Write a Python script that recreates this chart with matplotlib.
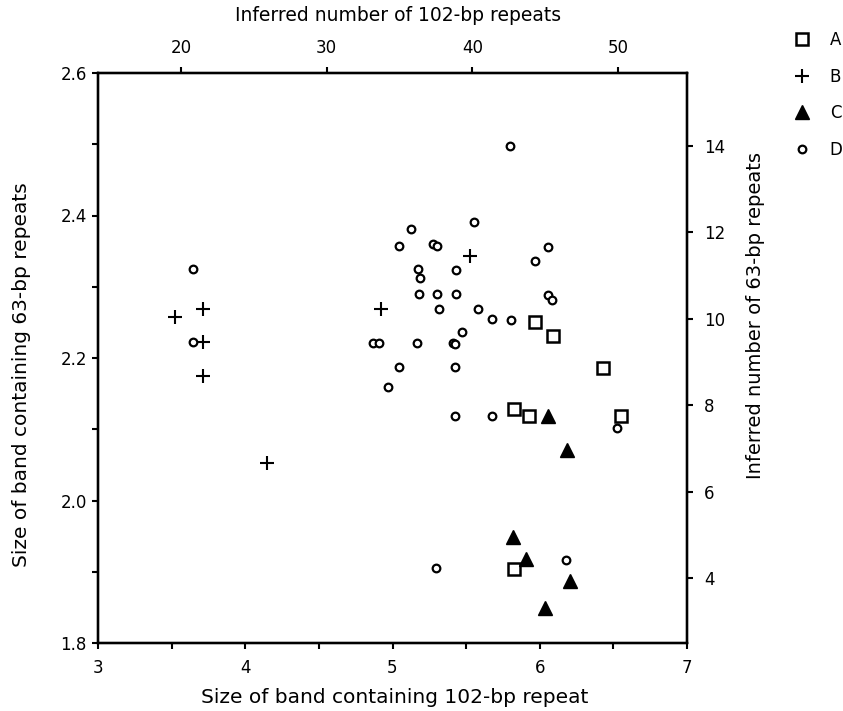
import numpy as np
import matplotlib
matplotlib.use('Agg')
import matplotlib.pyplot as plt

plt.rcParams['font.family'] = ['DejaVu Sans']

# band sizes (kb): x = 102-bp repeat band, y = 63-bp repeat band
a_x = [5.967, 6.091, 6.430, 5.827, 5.926, 6.555, 5.824]
a_y = [2.250, 2.231, 2.186, 2.128, 2.118, 2.118, 1.904]

b_x = [3.523, 3.711, 3.711, 3.711, 4.150, 4.921, 5.525]
b_y = [2.257, 2.269, 2.222, 2.175, 2.053, 2.269, 2.343]

c_x = [6.053, 6.182, 5.815, 5.910, 6.204, 6.039]
c_y = [2.119, 2.071, 1.949, 1.918, 1.887, 1.849]

d_x = [3.647, 3.647, 4.865, 4.910, 4.971, 5.046, 5.046, 5.125, 5.168, 5.175,
       5.186, 5.177, 5.276, 5.303, 5.303, 5.315, 5.428, 5.428, 5.412, 5.424,
       5.424, 5.424, 5.473, 5.553, 5.578, 5.679, 5.677, 5.797, 5.804, 5.967,
       6.055, 6.055, 6.082, 6.528, 6.175, 5.295]
d_y = [2.325, 2.222, 2.221, 2.221, 2.160, 2.357, 2.187, 2.381, 2.221, 2.325,
       2.312, 2.290, 2.360, 2.357, 2.290, 2.269, 2.324, 2.290, 2.221, 2.220,
       2.187, 2.119, 2.236, 2.391, 2.269, 2.255, 2.119, 2.498, 2.254, 2.336,
       2.356, 2.289, 2.281, 2.102, 1.917, 1.905]

fig = plt.figure(figsize=(8.43, 7.11), dpi=100)
ax = fig.add_axes([98/843, 1-643/711, (687-98)/843, (643-73)/711])

ax.plot(a_x, a_y, ls='none', marker='s', ms=8, mfc='white', mec='black', mew=1.8, label='A')
ax.plot(b_x, b_y, ls='none', marker='+', ms=10, mec='black', mew=1.5, label='B')
ax.plot(c_x, c_y, ls='none', marker='^', ms=10, mfc='black', mec='black', label='C')
ax.plot(d_x, d_y, ls='none', marker='o', ms=5.5, mfc='white', mec='black', mew=1.6, label='D')

ax.set_xlim(3, 7)
ax.set_ylim(1.8, 2.6)
ax.set_xticks([3, 4, 5, 6, 7])
ax.set_xticks([3.5, 4.5, 5.5, 6.5], minor=True)
ax.set_yticks([1.8, 2.0, 2.2, 2.4, 2.6])
ax.set_yticks([1.9, 2.1, 2.3, 2.5], minor=True)
ax.set_yticklabels(['1.8', '2.0', '2.2', '2.4', '2.6'])
ax.tick_params(which='both', direction='out', width=1.5, length=4.5, labelsize=12)
ax.tick_params(axis='x', which='both', pad=7)
ax.set_xlabel('Size of band containing 102-bp repeat', fontsize=14.5)
ax.set_ylabel('Size of band containing 63-bp repeats', fontsize=14.5)
ax.xaxis.set_label_coords(0.504, -0.079)
ax.yaxis.set_label_coords(-0.114, 0.47)
for s in ax.spines.values():
    s.set_linewidth(1.6)

# top axis: inferred number of 102-bp repeats
axt = ax.twiny()
axt.set_xlim(14.30, 54.74)
axt.set_xticks([20, 30, 40, 50])
axt.tick_params(direction='out', width=1.5, length=4.5, pad=7, labelsize=12)
axt.set_xlabel('Inferred number of 102-bp repeats', fontsize=13.5)
axt.xaxis.set_label_coords(0.51, 1.092)

# right axis: inferred number of 63-bp repeats
axr = ax.twinx()
axr.set_ylim(2.495, 15.69)
axr.set_yticks([4, 6, 8, 10, 12, 14])
axr.tick_params(direction='out', width=1.5, length=4.5, pad=8, labelsize=12)
axr.set_ylabel('Inferred number of 63-bp repeats', fontsize=14)
axr.yaxis.set_label_coords(1.100, 0.575)
for a in (axt, axr):
    for s in a.spines.values():
        s.set_linewidth(1.6)

ax.legend(loc='upper left', bbox_to_anchor=(0.933, 0.966), bbox_transform=fig.transFigure,
          frameon=False, fontsize=12, handletextpad=1.2, labelspacing=1.12,
          handlelength=1.0, borderaxespad=0)

fig.savefig('out.png', dpi=100)
